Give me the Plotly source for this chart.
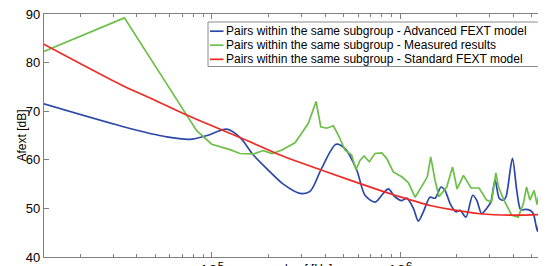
import plotly.graph_objects as go

# ---- data (x values are log10 of frequency in Hz, y values in dB) ----
series_names = [
    "Pairs within the same subgroup - Advanced FEXT model",
    "Pairs within the same subgroup - Measured results",
    "Pairs within the same subgroup - Standard FEXT model",
]
series_colors = ["#2b48a8", "#6cbf47", "#ee2a24"]

blue_logf = [4.108, 4.531, 4.761, 4.885, 4.975, 5.080, 5.150, 5.221, 5.292, 5.380,
             5.469, 5.522, 5.584, 5.660, 5.708, 5.770, 5.814, 5.867, 5.911, 5.938,
             5.973, 6.009, 6.036, 6.071, 6.097, 6.124, 6.159, 6.186, 6.218, 6.239,
             6.266, 6.297, 6.319, 6.350, 6.386, 6.407, 6.434, 6.460, 6.482, 6.505,
             6.527, 6.549, 6.563, 6.597, 6.620, 6.641, 6.664, 6.690, 6.708, 6.730,
             6.747, 6.761, 6.770]
blue_db = [71.5, 66.8, 64.7, 64.2, 65.0, 66.3, 64.6, 61.0, 58.2, 55.0,
           53.1, 53.5, 58.3, 63.2, 62.3, 57.9, 52.7, 51.3, 53.1, 54.0,
           52.4, 51.6, 52.1, 50.0, 47.4, 49.3, 52.3, 52.1, 54.4, 53.7,
           51.0, 49.3, 49.6, 48.2, 52.7, 51.7, 48.9, 50.0, 51.3, 55.8,
           52.1, 51.7, 52.4, 60.3, 53.7, 49.7, 49.8, 49.6, 48.9, 45.3,
           48.9, 48.2, 48.3]

green_logf = [4.108, 4.536, 4.832, 4.920, 5.000, 5.097, 5.150, 5.221, 5.274, 5.320,
              5.373, 5.416, 5.442, 5.478, 5.513, 5.554, 5.579, 5.611, 5.646, 5.672,
              5.708, 5.743, 5.766, 5.788, 5.809, 5.837, 5.867, 5.903, 5.929, 5.964,
              6.009, 6.044, 6.080, 6.124, 6.145, 6.163, 6.186, 6.207, 6.248, 6.279,
              6.303, 6.337, 6.377, 6.420, 6.460, 6.486, 6.509, 6.523, 6.552, 6.593,
              6.628, 6.655, 6.672, 6.690, 6.712, 6.728, 6.749, 6.770]
green_db = [82.3, 89.2, 71.3, 66.0, 63.2, 62.1, 61.3, 61.2, 61.9, 61.3,
            62.0, 63.0, 63.5, 65.5, 67.5, 72.0, 66.8, 66.5, 67.0, 65.1,
            62.0, 61.0, 57.9, 59.9, 60.8, 59.6, 61.3, 61.4, 60.3, 57.5,
            56.5, 55.3, 52.3, 55.1, 56.5, 60.6, 55.8, 52.4, 54.4, 58.5,
            54.0, 56.8, 54.2, 54.2, 51.7, 51.3, 57.3, 54.4, 51.7, 48.6,
            48.2, 51.0, 54.4, 51.7, 53.7, 50.8, 55.3, 50.2]

red_logf = [4.108, 4.531, 4.690, 4.867, 5.203, 5.363, 5.611, 5.893, 5.982, 6.159,
            6.266, 6.425, 6.620, 6.770]
red_db = [83.8, 75.2, 72.4, 69.2, 63.7, 61.0, 57.5, 53.7, 52.6, 50.6,
          49.8, 48.9, 48.6, 48.8]

y_ticks = [40, 50, 60, 70, 80, 90]
x_title = "log f [Hz]"
y_title = "Afext [dB]"

FONT = "Liberation Sans, Arial, Helvetica, sans-serif"
AXIS_GRAY = "#7f7f7f"

# The page body keeps its default 8 px margin, so the figure is 8 px smaller
# than the window and its own margins are reduced by the same amount.
PAGE_OFF = 8
PLOT_L, PLOT_R, PLOT_T, PLOT_B = 44, 545, 14, 257   # plot area in window pixels

fig = go.Figure()
for logf, db, name, col, shape in [
    (blue_logf, blue_db, series_names[0], series_colors[0], "spline"),
    (green_logf, green_db, series_names[1], series_colors[1], "linear"),
    (red_logf, red_db, series_names[2], series_colors[2], "spline"),
]:
    fig.add_trace(go.Scatter(
        x=[10 ** u for u in logf], y=db, mode="lines", name=name,
        line=dict(color=col, width=1.7, shape=shape, smoothing=0.8),
        showlegend=False,
    ))

fig.update_layout(
    width=546 - PAGE_OFF, height=266 - PAGE_OFF,
    margin=dict(l=PLOT_L - PAGE_OFF, r=546 - PAGE_OFF - (PLOT_R - PAGE_OFF),
                t=PLOT_T - PAGE_OFF, b=266 - PLOT_B),
    plot_bgcolor="white", paper_bgcolor="white",
    font=dict(family=FONT, size=13, color="black"),
    showlegend=False,
)

fig.update_xaxes(
    type="log", range=[4.109, 6.770], dtick=1, exponentformat="power",
    showline=True, linecolor=AXIS_GRAY, linewidth=1.2, mirror="ticks",
    ticks="inside", ticklen=5, tickcolor=AXIS_GRAY, tickwidth=1,
    showgrid=False, zeroline=False, automargin=False, ticklabeloverflow="allow",
    tickfont=dict(size=13, color="black"),
    minor=dict(ticks="inside", ticklen=3, tickcolor=AXIS_GRAY, dtick="D1", showgrid=False),
)
fig.update_yaxes(
    range=[40, 90], tickvals=y_ticks,
    showline=True, linecolor=AXIS_GRAY, linewidth=1.2, mirror="ticks",
    ticks="inside", ticklen=5, tickcolor=AXIS_GRAY, tickwidth=1,
    showgrid=False, zeroline=False, automargin=False, ticklabeloverflow="allow",
    tickfont=dict(size=13, color="black"),
)

PW = PLOT_R - PLOT_L
PH = PLOT_B - PLOT_T


def px_x(p):
    return (p - PLOT_L) / PW


def px_y(p):
    return (PLOT_B - p) / PH


# axis titles
fig.add_annotation(text=y_title, xref="paper", yref="paper", x=px_x(21.7), y=px_y(135.8),
                   textangle=-90, showarrow=False,
                   xanchor="center", yanchor="middle", font=dict(size=12, family=FONT))
fig.add_annotation(text=x_title, xref="paper", yref="paper", x=px_x(283), y=px_y(259.5),
                   showarrow=False, xanchor="left", yanchor="top",
                   font=dict(size=12, family=FONT))

# legend box (drawn manually to match the compact row spacing)
fig.add_shape(type="rect", xref="paper", yref="paper",
              x0=px_x(208), x1=px_x(541.5), y0=px_y(66.5), y1=px_y(22),
              line=dict(color="#8a8a8a", width=1), fillcolor="white", layer="above")
rows = [31.2, 45.2, 59.3]
for name, col, ry in zip(series_names, series_colors, rows):
    fig.add_shape(type="line", xref="paper", yref="paper",
                  x0=px_x(210), x1=px_x(223.5), y0=px_y(ry), y1=px_y(ry),
                  line=dict(color=col, width=1.7), layer="above")
    fig.add_annotation(text=name, xref="paper", yref="paper", x=px_x(223.5), y=px_y(ry),
                       showarrow=False, xanchor="left", yanchor="middle",
                       font=dict(size=12, family=FONT, color="black"))

fig.write_html("out.html")
